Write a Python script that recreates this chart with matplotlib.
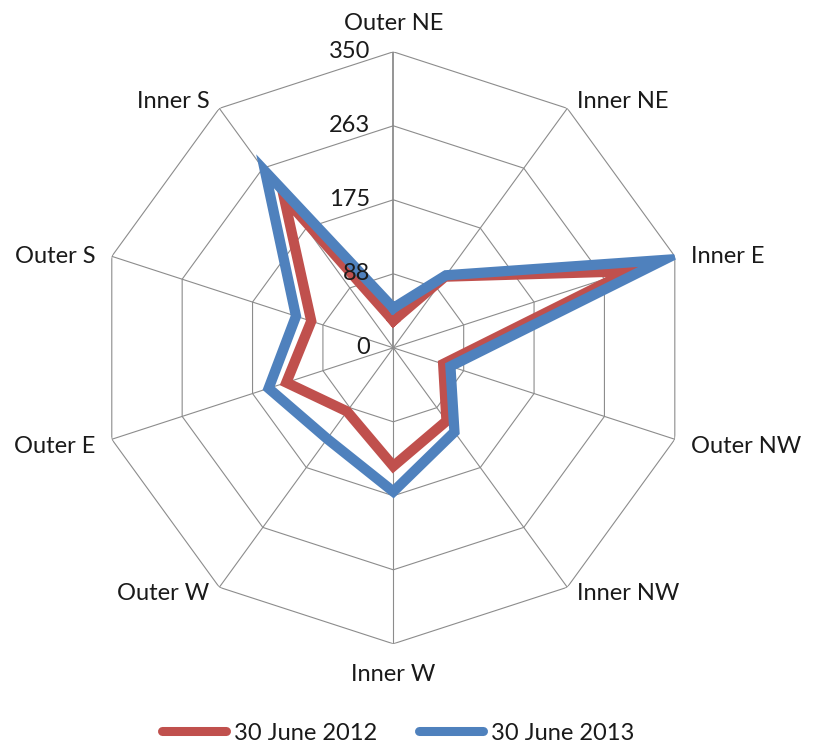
import matplotlib
matplotlib.use("Agg")
import matplotlib.pyplot as plt
import numpy as np

# ── Data ──────────────────────────────────────────────────────────────────────
categories = ["Outer NE", "Inner NE", "Inner E", "Outer NW", "Inner NW",
              "Inner W", "Outer W", "Outer E", "Outer S", "Inner S"]
june_2012 = [32, 104, 293, 62, 107, 140, 93, 133, 102, 220]
june_2013 = [47, 106, 336, 71, 123, 170, 133, 155, 121, 258]
r_ticks = [0, 87.5, 175, 262.5, 350]
r_tick_labels = ["0", "88", "175", "263", "350"]
series_labels = ["30 June 2012", "30 June 2013"]

RED = "#C0504D"
BLUE = "#4F81BD"
GRID = "#8c8c8c"
TEXT = "#1a1a1a"
FONT = "Lato"
FS = 17

W, H = 820, 749
fig = plt.figure(figsize=(W / 100, H / 100), dpi=100)
cx, cy, rad = 393.3, 347.8, 296.0
ax = fig.add_axes([(cx - rad) / W, (H - cy - rad) / H, 2 * rad / W, 2 * rad / H],
                  projection="polar")
ax.set_theta_offset(np.pi / 2)
ax.set_theta_direction(-1)
ax.set_ylim(0, r_ticks[-1])
ax.grid(False)
ax.spines["polar"].set_visible(False)
ax.set_xticks([])
ax.set_yticks([])
ax.patch.set_alpha(0)

n = len(categories)
theta = np.arange(n) * 2 * np.pi / n
theta_c = np.append(theta, theta[0])

# polygon grid rings
for r in r_ticks[1:]:
    ax.plot(theta_c, [r] * (n + 1), color=GRID, lw=0.8, zorder=1)
# spokes
for i, t in enumerate(theta):
    ax.plot([t, t], [0, r_ticks[-1]], color=GRID,
            lw=1.3 if i == 0 else 0.8, zorder=1)

# series
for vals, col in [(june_2012, RED), (june_2013, BLUE)]:
    ax.plot(theta_c, np.append(vals, vals[0]), color=col, lw=7.4,
            solid_joinstyle="miter", zorder=3)

# radial value labels (drawn above the series, as in the reference)
for r, lab in zip(r_ticks, r_tick_labels):
    ax.annotate(lab, xy=(0, r), xytext=(-23, 0), textcoords="offset pixels",
                ha="right", va="center", fontsize=FS, family=FONT, color=TEXT,
                zorder=5)

# category labels
for t, lab in zip(theta, categories):
    s, c = np.sin(t), np.cos(t)
    if abs(s) < 0.1:
        ha = "center"
        dx, dy = 0, (18 if c > 0 else -20)
        va = "bottom" if c > 0 else "top"
    else:
        ha = "left" if s > 0 else "right"
        dx = 10 * np.sign(s) + 6 * np.sign(s) * (abs(s) > 0.9)
        dy = 8 * c + (-5 if abs(s) > 0.9 and c < 0 else 0)
        if abs(s) > 0.9 and c > 0:
            dy = 0
        va = "center"
    ax.annotate(lab, xy=(t, r_ticks[-1]), xytext=(dx, dy),
                textcoords="offset pixels", ha=ha, va=va, fontsize=FS,
                family=FONT, color=TEXT, annotation_clip=False)

handles = [plt.Line2D([], [], color=RED, lw=6.5, solid_capstyle="round"),
           plt.Line2D([], [], color=BLUE, lw=6.5, solid_capstyle="round")]
fig.legend(handles, series_labels, loc="center", bbox_to_anchor=(398.5 / W, 1 - 733 / H),
           ncol=2, frameon=False, prop={"family": FONT, "size": FS},
           handlelength=2.7, handletextpad=0.36, columnspacing=1.76,
           borderpad=0, labelcolor=TEXT)

fig.savefig("out.png", dpi=100)
